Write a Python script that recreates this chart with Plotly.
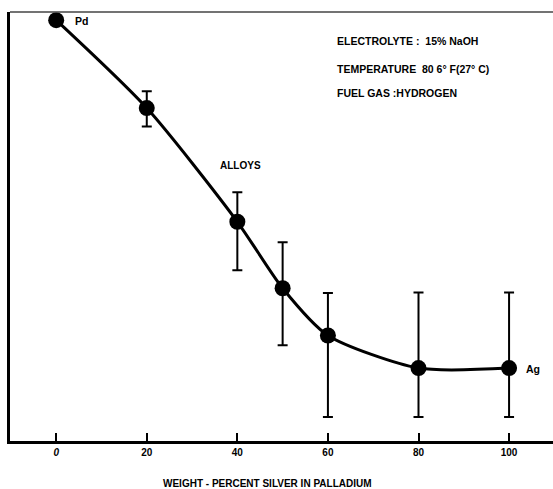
import plotly.graph_objects as go

# Weight percent silver in palladium
silver_pct = [0, 20, 40, 50, 60, 80, 100]
# Relative response (0 = baseline, 100 = top of frame)
response = [98.1, 77.6, 51.1, 35.6, 24.6, 17.0, 17.0]
# Scatter band for each composition (upper / lower bounds)
band_high = [98.1, 81.5, 58.0, 46.3, 34.5, 34.6, 34.6]
band_low = [98.1, 73.3, 39.8, 22.3, 5.6, 5.6, 5.6]

tick_vals = [0, 20, 40, 60, 80, 100]
tick_text = ["<i>0</i>", "20", "40", "60", "80", "100"]

err_plus = [h - v for h, v in zip(band_high, response)]
err_minus = [v - l for l, v in zip(band_low, response)]

FONT = "Liberation Sans, Arial, sans-serif"


def bold(s):
    return "<b>" + s + "</b>"


fig = go.Figure()

# smooth curve through the measured points
fig.add_trace(go.Scatter(
    x=silver_pct, y=response, mode="lines",
    line=dict(color="black", width=3, shape="spline", smoothing=0.7),
    hoverinfo="skip", showlegend=False,
))

# markers with their scatter bands
fig.add_trace(go.Scatter(
    x=silver_pct, y=response, mode="markers",
    marker=dict(color="black", size=16),
    error_y=dict(type="data", symmetric=False, array=err_plus,
                 arrayminus=err_minus, color="black", thickness=2, width=5),
    showlegend=False,
))

notes = [
    dict(x=61.6, y=93.2, text="ELECTROLYTE :  15% NaOH"),
    dict(x=61.6, y=86.7, text="TEMPERATURE  80 6\u00b0 F(27\u00b0 C)"),
    dict(x=61.6, y=81.1, text="FUEL GAS :HYDROGEN"),
    dict(x=3.6, y=98.0, text="Pd"),
    dict(x=103.3, y=16.7, text="Ag"),
]
for n in notes:
    fig.add_annotation(x=n["x"], y=n["y"], text=bold(n["text"]), showarrow=False,
                       xanchor="left", yanchor="middle",
                       font=dict(family=FONT, size=10.5, color="black"))

fig.add_annotation(x=40.8, y=64.2, text=bold("ALLOYS"), showarrow=False,
                   xanchor="center", yanchor="middle",
                   font=dict(family=FONT, size=10, color="black"))

# axis caption, set slightly left of the frame centre
fig.add_annotation(x=46.6, xref="x", y=0, yref="paper", yshift=-42,
                   text=bold("WEIGHT - PERCENT SILVER IN PALLADIUM"),
                   showarrow=False, xanchor="center", yanchor="middle",
                   font=dict(family=FONT, size=10, color="black"))

# thin upper border of the frame
fig.add_shape(type="line", xref="paper", yref="paper", x0=0, x1=1, y0=1, y1=1,
              line=dict(color="#444444", width=1.5))

fig.update_xaxes(
    range=[-10.2, 109.7], tickvals=tick_vals, ticktext=[bold(t) for t in tick_text],
    ticks="inside", ticklen=8, tickwidth=2, tickcolor="black",
    showline=True, linecolor="black", linewidth=2.5,
    showgrid=False, zeroline=False,
    tickfont=dict(family=FONT, size=10, color="black"),
)
fig.update_yaxes(
    range=[0, 100], showticklabels=False, ticks="",
    showline=True, linecolor="black", linewidth=3,
    showgrid=False, zeroline=False,
)

fig.update_layout(
    width=553, height=489,
    margin=dict(l=10, r=0, t=12, b=48),
    plot_bgcolor="white", paper_bgcolor="white",
    showlegend=False,
)

fig.write_html("out.html")
